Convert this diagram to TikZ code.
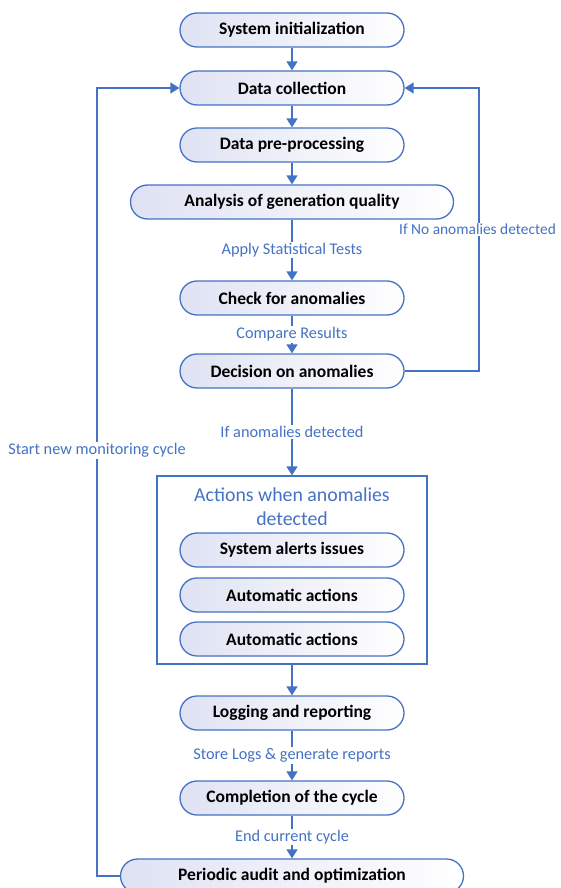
\documentclass[tikz,border=0pt]{standalone}
\usepackage{fontspec}
\setmainfont{Carlito}
\usetikzlibrary{arrows.meta}
\definecolor{flowblue}{HTML}{4472C4}
\definecolor{lavender}{HTML}{DFE2F3}

\tikzset{
  stage/.style={draw=flowblue, line width=1.3pt, rounded corners=17pt,
    minimum width=224pt, minimum height=34pt, inner sep=0pt,
    left color=lavender, right color=white,
    font=\fontsize{17.5}{20}\selectfont\bfseries},
  flow/.style={draw=flowblue, line width=1.5pt, -{Triangle[width=11pt,length=9pt]}},
  note/.style={fill=white, text=flowblue, inner sep=1.5pt,
    font=\fontsize{16.3}{19}\selectfont},
}

\begin{document}
\begin{tikzpicture}[x=1pt,y=-1pt]
  \useasboundingbox (0,0) rectangle (560,888);
  % main column
  \node[stage] (init) at (292,30) {System initialization};
  \node[stage] (collect) at (292,88) {Data collection};
  \node[stage] (prep) at (292,145) {Data pre-processing};
  \node[stage, minimum width=323pt] (quality) at (292,202) {Analysis of generation quality};
  \node[stage] (check) at (292,298) {Check for anomalies};
  \node[stage] (decide) at (292,371) {Decision on anomalies};

  % actions group
  \node[draw=flowblue, line width=1.3pt, fill=white, minimum width=270pt, minimum height=188pt] (actions) at (292,570) {};
  \node[text=flowblue, align=center, font=\fontsize{19.8}{24}\selectfont] (acttitle) at (292,507) {Actions when anomalies\\detected};
  \node[stage] (alerts) at (292,550) {System alerts issues};
  \node[stage] (auto1) at (292,595) {Automatic actions};
  \node[stage] (auto2) at (292,639) {Automatic actions};

  \node[stage] (logging) at (292,713) {Logging and reporting};
  \node[stage] (complete) at (292,798) {Completion of the cycle};
  \node[stage, minimum width=343pt] (audit) at (292,876) {Periodic audit and optimization};

  % connectors
  \draw[flow] (init) -- (collect);
  \draw[flow] (collect) -- (prep);
  \draw[flow] (prep) -- (quality);
  \draw[flow] (quality) -- node[note] {Apply Statistical Tests} (check);
  \draw[flow] (check) -- node[note] {Compare Results} (decide);
  \draw[flow] (decide) -- node[note] {If anomalies detected} (actions);
  \draw[flow] (actions) -- (logging);
  \draw[flow] (logging) -- node[note] {Store Logs \& generate reports} (complete);
  \draw[flow] (complete) -- node[note] {End current cycle} (audit);

  % loops back to data collection
  \coordinate (rloop) at (479,371);
  \coordinate (lloop) at (97,876);
  \draw[flow] (decide.east) -- (rloop) |- node[note, pos=0.25, font=\fontsize{15.4}{19}\selectfont, xshift=-1.5pt] {If No anomalies detected} (collect.east);
  \draw[flow] (audit.west) -- (lloop) |- node[note, pos=0.27] {Start new monitoring cycle} (collect.west);
\end{tikzpicture}
\end{document}
